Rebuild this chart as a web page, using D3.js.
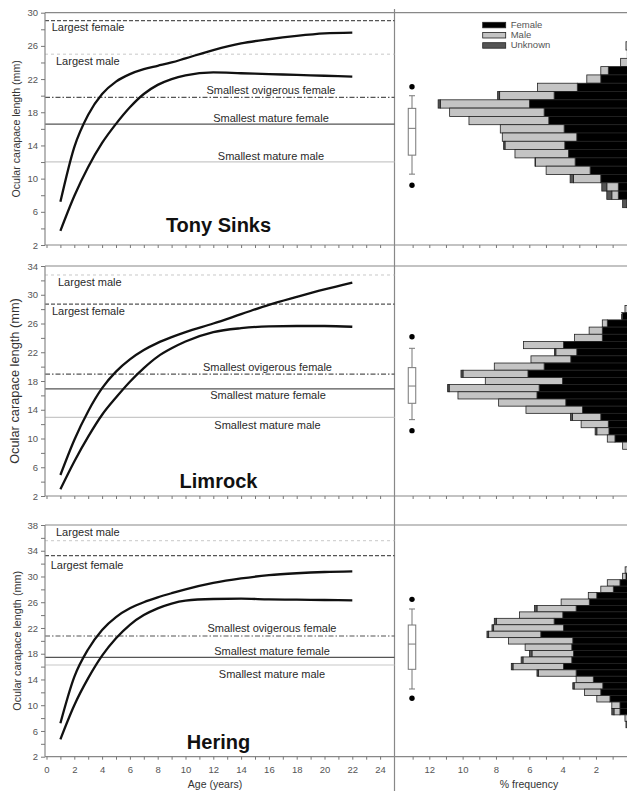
<!DOCTYPE html>
<html><head><meta charset="utf-8">
<script src="https://cdn.jsdelivr.net/npm/d3@7"></script>
<style>body{margin:0;background:#fff}svg{display:block;font-family:"Liberation Sans",Arial,sans-serif}</style>
</head><body><svg id="c" width="627" height="791"></svg>
<script>
// ---------------- DATA ----------------
const sites = ["Tony Sinks", "Limrock", "Hering"];
const ages = [1,2,3,4,5,6,7,8,9,10,12,14,16,18,20,22];
const upperTony = [7.2,13.8,17.7,20.2,21.7,22.6,23.2,23.6,24.0,24.5,25.5,26.3,26.8,27.2,27.5,27.6];
const lowerTony = [3.7,7.9,11.4,14.3,16.6,18.6,20.2,21.3,22.0,22.45,22.8,22.7,22.6,22.5,22.4,22.3];
const upperLim = [4.92,9.8,13.8,17.0,19.3,21.0,22.3,23.3,24.1,24.8,26.0,27.3,28.6,29.7,30.75,31.7];
const lowerLim = [2.93,6.8,10.25,13.3,15.7,17.9,19.8,21.4,22.55,23.5,24.8,25.35,25.6,25.65,25.65,25.55];
const upperHer = [7.2,14.4,18.7,21.7,23.7,25.05,26.0,26.75,27.4,28.0,29.0,29.7,30.2,30.5,30.7,30.8];
const lowerHer = [4.7,10.0,14.2,17.7,20.4,22.5,24.0,25.05,25.8,26.25,26.5,26.55,26.45,26.4,26.35,26.3];

const refNames = ["Largest female","Largest male","Smallest ovigerous female","Smallest mature female","Smallest mature male"];
const refTony = [29.04, 25.0, 19.8, 16.57, 12.03];
const refLim  = [28.7, 32.75, 18.97, 16.9, 12.95];
const refHer  = [33.23, 35.56, 20.75, 17.44, 16.25];

const yDomTony = [2,30], yDomLim = [2,34], yDomHer = [2,38];
const yTicksTony = [2,6,10,14,18,22,26,30];
const yTicksLim = [2,6,10,14,18,22,26,30,34];
const yTicksHer = [2,6,10,14,18,22,26,30,34,38];
const ageTicks = [0,2,4,6,8,10,12,14,16,18,20,22,24];
const pctTicks = [12,10,8,6,4,2];

// histogram bins (carapace length, mm) and % frequency per sex
const binsTony = [26,25,24,23,22,21,20,19,18,17,16,15,14,13,12,11,10,9,8,7];
const femTony = [0.05,0.1,0.1,1.26,1.71,3.12,4.51,5.99,5.11,4.83,3.91,3.15,3.87,3.65,3.25,2.35,1.71,0.66,0.66,0.1];
const malTony = [0.15,0.02,0.42,0.45,0.84,2.39,3.27,5.35,5.67,4.79,3.83,4.47,3.59,3.21,2.38,2.64,1.64,0.69,0.39,0.05];
const unkTony = [0,0,0,0,0,0,0.12,0.13,0,0,0,0,0.08,0,0.03,0,0.2,0.3,0.3,0.25];

const binsLim = [28,27,26,25,24,23,22,21,20,19,18,17,16,15,14,13,12,11,10,9];
const femLim = [0.1,0.42,1.32,1.62,1.62,3.95,3.15,3.51,5.11,6.08,4.01,5.41,5.54,3.81,2.81,1.71,1.26,1.22,0.86,0.1];
const malLim = [0.16,0.05,0.3,0.79,1.67,2.4,1.26,2.39,2.99,3.9,4.63,5.4,4.74,4.03,3.39,1.7,1.63,0.73,0.46,0.3];
const unkLim = [0,0,0,0,0,0,0.08,0,0,0.12,0,0.09,0,0,0,0.12,0,0.1,0,0];

const binsHer = [31,30,29,28,27,26,25,24,23,22,21,20,19,18,17,16,15,14,13,12,11,10,9,8,7];
const femHer = [0.1,0.2,0.56,0.96,1.95,2.4,3.19,3.99,4.51,3.95,5.31,3.39,3.45,3.35,3.45,3.95,3.19,2.16,1.59,1.71,1.16,0.56,0.56,0.1,0.05];
const malHer = [0.15,0.2,0.76,0.75,0.51,1.69,2.35,2.6,3.47,4.19,3.13,3.86,2.8,2.49,2.93,3.03,2.26,1.03,1.72,0.98,0.79,0.49,0.36,0.16,0];
const unkHer = [0,0,0,0,0,0,0.15,0,0.12,0.1,0.1,0,0,0.15,0.11,0.1,0.09,0,0.08,0,0,0,0.13,0,0.15];

// box plots: [outlier low, whisker low, Q1, median, Q3, whisker high, outlier high]
const boxTony = [9.21,10.54,12.83,16.06,18.47,19.99,21.07];
const boxLim  = [11.09,12.62,14.9,17.3,19.86,22.55,24.16];
const boxHer  = [11.07,12.52,15.58,19.5,22.46,24.95,26.45];

const legendLabels = ["Female","Male","Unknown"];

// ---------------- LAYOUT ----------------
const svg = d3.select("#c");
const W = 627;
const xL = 45, xDiv = 394.5;
const x = d3.scaleLinear().domain([0,25]).range([46.5,394]);
const hx = d3.scaleLinear().domain([0,12]).range([629.3,429.3]);

const panels = [
  {name:sites[0], top:12.7, bot:245, dom:yDomTony, ticks:yTicksTony, up:upperTony, lo:lowerTony, ref:refTony,
   bins:binsTony, fem:femTony, mal:malTony, unk:unkTony, box:boxTony, titleSize:10.6, titleX:16,
   lab:[{x:51.7,dy:10.5},{x:56,dy:11},{cx:271,dy:-3},{cx:271,dy:-2},{cx:271,dy:-2}], nameY:232},
  {name:sites[1], top:266, bot:496, dom:yDomLim, ticks:yTicksLim, up:upperLim, lo:lowerLim, ref:refLim,
   bins:binsLim, fem:femLim, mal:malLim, unk:unkLim, box:boxLim, titleSize:12.8, titleX:15,
   lab:[{x:52,dy:10.7},{x:58,dy:10.7},{cx:267.5,dy:-3},{cx:268,dy:10},{cx:267.5,dy:12}], nameY:488.3},
  {name:sites[2], top:525, bot:756.7, dom:yDomHer, ticks:yTicksHer, up:upperHer, lo:lowerHer, ref:refHer,
   bins:binsHer, fem:femHer, mal:malHer, unk:unkHer, box:boxHer, titleSize:10.8, titleX:17,
   lab:[{x:50.7,dy:13},{x:56,dy:-4.4},{cx:272,dy:-3.7},{cx:272,dy:-2},{cx:272,dy:13}], nameY:749.3}
];

const refStyle = [
  {stroke:"#555", dash:"4,2", w:1.2},
  {stroke:"#c8c8c8", dash:"3,3", w:1},
  {stroke:"#555", dash:"5,2,1.5,2", w:1.2},
  {stroke:"#555", dash:null, w:1.3},
  {stroke:"#c8c8c8", dash:null, w:1.2}
];

// divider line
svg.append("line").attr("x1",xDiv).attr("x2",xDiv).attr("y1",9).attr("y2",791).attr("stroke","#888").attr("stroke-width",1.2);

panels.forEach((p,pi)=>{
  const y = d3.scaleLinear().domain(p.dom).range([p.bot,p.top]);
  const g = svg.append("g");

  // histogram
  const hg = g.append("g");
  p.bins.forEach((b,i)=>{
    const yt = y(b+0.5), yb = y(b-0.5);
    const F = p.fem[i], M = p.mal[i], U = p.unk[i];
    const segs = [[0,F,"#000"],[F,F+M,"#c4c4c4"],[F+M,F+M+U,"#555"]];
    segs.forEach(s=>{
      if (s[1]-s[0] <= 0) return;
      hg.append("rect").attr("x",hx(s[1])).attr("y",yt).attr("width",hx(s[0])-hx(s[1])).attr("height",yb-yt)
        .attr("fill",s[2]).attr("stroke","#222").attr("stroke-width",0.8);
    });
  });

  // box plot
  const bx = 412, bw = 7.5, b = p.box;
  const bg = g.append("g").attr("stroke","#777").attr("stroke-width",1).attr("fill","none");
  bg.append("line").attr("x1",bx).attr("x2",bx).attr("y1",y(b[1])).attr("y2",y(b[2]));
  bg.append("line").attr("x1",bx).attr("x2",bx).attr("y1",y(b[4])).attr("y2",y(b[5]));
  bg.append("line").attr("x1",bx-3).attr("x2",bx+3).attr("y1",y(b[1])).attr("y2",y(b[1]));
  bg.append("line").attr("x1",bx-3).attr("x2",bx+3).attr("y1",y(b[5])).attr("y2",y(b[5]));
  bg.append("rect").attr("x",bx-bw/2).attr("y",y(b[4])).attr("width",bw).attr("height",y(b[2])-y(b[4])).attr("fill","#fff");
  bg.append("line").attr("x1",bx-bw/2).attr("x2",bx+bw/2).attr("y1",y(b[3])).attr("y2",y(b[3]));
  [b[0],b[6]].forEach(v=> g.append("circle").attr("cx",bx).attr("cy",y(v)).attr("r",2.7).attr("fill","#000"));

  // reference lines
  p.ref.forEach((v,i)=>{
    const s = refStyle[i];
    const ln = g.append("line").attr("x1",xL).attr("x2",xDiv).attr("y1",y(v)).attr("y2",y(v))
      .attr("stroke",s.stroke).attr("stroke-width",s.w);
    if (s.dash) ln.attr("stroke-dasharray",s.dash);
    const L = p.lab[i];
    const t = g.append("text").attr("y",y(v)+L.dy).attr("font-size",11).attr("fill","#2a2a2a").text(refNames[i]);
    if (L.cx!==undefined) t.attr("x",L.cx).attr("text-anchor","middle"); else t.attr("x",L.x);
  });

  // growth curves
  const line = d3.line().x((d,i)=>x(ages[i])).y(d=>y(d)).curve(d3.curveMonotoneX);
  [p.up,p.lo].forEach(arr=>{
    g.append("path").datum(arr).attr("d",line).attr("fill","none").attr("stroke","#111").attr("stroke-width",2.3);
  });

  // frame
  const fg = g.append("g").attr("stroke","#888").attr("stroke-width",1.2);
  fg.append("line").attr("x1",xL).attr("x2",W).attr("y1",p.top).attr("y2",p.top);
  fg.append("line").attr("x1",xL).attr("x2",W).attr("y1",p.bot).attr("y2",p.bot);
  fg.append("line").attr("x1",xL).attr("x2",xL).attr("y1",p.top).attr("y2",p.bot);

  // y axis
  const ya = d3.axisLeft(y).tickValues(d3.range(p.dom[0],p.dom[1]+0.1,2)).tickSize(4)
    .tickFormat(d=> p.ticks.includes(d) ? d : "");
  const yag = g.append("g").attr("transform",`translate(${xL},0)`).call(ya);
  yag.select(".domain").remove();
  yag.selectAll("line").attr("stroke","#777");
  yag.selectAll("text").attr("font-size",9.5).attr("fill","#555").attr("font-family","Liberation Sans, Arial");

  // x axis (age)
  const xa = d3.axisBottom(x).tickValues(d3.range(0,25,1)).tickSize(3)
    .tickFormat(d=> (pi===2 && ageTicks.includes(d)) ? d : "");
  const xag = g.append("g").attr("transform",`translate(0,${p.bot})`).call(xa);
  xag.select(".domain").remove();
  xag.selectAll("line").attr("stroke","#777");
  xag.selectAll("text").attr("font-size",9.5).attr("fill","#555").attr("dy","1.05em").attr("font-family","Liberation Sans, Arial");

  // x axis (% frequency)
  const ha = d3.axisBottom(hx).tickValues(d3.range(1,14,1)).tickSize(3)
    .tickFormat(d=> (pi===2 && pctTicks.includes(d)) ? d : "");
  const hag = g.append("g").attr("transform",`translate(0,${p.bot})`).call(ha);
  hag.select(".domain").remove();
  hag.selectAll("line").attr("stroke","#777");
  hag.selectAll("text").attr("font-size",9.5).attr("fill","#555").attr("dy","1.05em").attr("font-family","Liberation Sans, Arial");

  // y title
  g.append("text").attr("transform",`translate(${p.titleX},${(p.top+p.bot)/2}) rotate(-90)`)
    .attr("text-anchor","middle").attr("dy","0.35em").attr("font-size",p.titleSize).attr("fill","#333")
    .text("Ocular carapace length (mm)");

  // site name
  g.append("text").attr("x",218.5).attr("y",p.nameY).attr("text-anchor","middle")
    .attr("font-size",20).attr("font-weight","bold").attr("fill","#111").text(p.name);
});

// legend
const lg = svg.append("g");
const legFill = ["#000","#c4c4c4","#555"];
legendLabels.forEach((l,i)=>{
  lg.append("rect").attr("x",482.7).attr("y",22.3+i*10.2).attr("width",23).attr("height",5.5)
    .attr("fill",legFill[i]).attr("stroke","#222").attr("stroke-width",0.8);
  lg.append("text").attr("x",510.7).attr("y",27.6+i*10.2).attr("font-size",9.5).attr("fill","#555").text(l);
});

// axis titles
svg.append("text").attr("x",215).attr("y",788).attr("text-anchor","middle").attr("font-size",10.5).attr("fill","#333").text("Age (years)");
svg.append("text").attr("x",529).attr("y",788).attr("text-anchor","middle").attr("font-size",10.5).attr("fill","#333").text("% frequency");
</script></body></html>
